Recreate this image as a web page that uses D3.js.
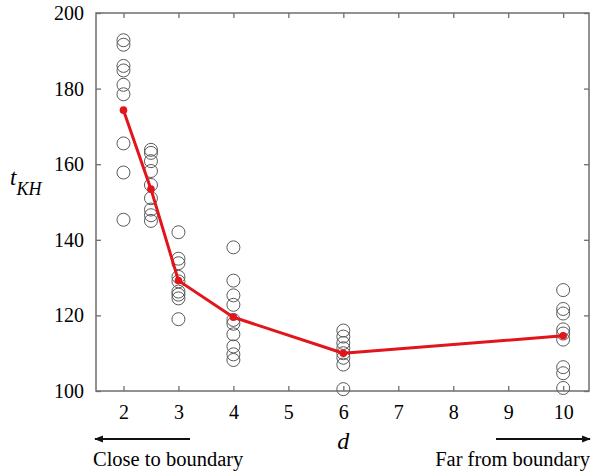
<!DOCTYPE html>
<html><head><meta charset="utf-8">
<script src="https://cdn.jsdelivr.net/npm/d3@7"></script>
<style>body{margin:0;background:#fff}svg{display:block}svg text{font-family:"Liberation Serif","Times New Roman",Tinos,"DejaVu Serif",serif !important}</style>
</head><body>
<script>
const dValues = [2, 2.5, 3, 4, 6, 10];
const runs_d2   = [192.8, 191.6, 186, 184.8, 181, 178.5, 165.5, 157.8, 145.3];
const runs_d2_5 = [163.8, 163, 160.8, 158.2, 154.5, 151, 148, 146.5, 145];
const runs_d3   = [142, 135, 133.8, 130.2, 129, 126.3, 125.5, 124.5, 119];
const runs_d4   = [138, 129.2, 125.3, 122.8, 118.8, 117.8, 115, 111.8, 109.7, 108.2];
const runs_d6   = [116, 114.4, 112.7, 111.3, 110, 108.8, 107, 100.5];
const runs_d10  = [126.7, 121.7, 120.5, 116.3, 115.2, 113.6, 106.3, 104.7, 100.8];
const meanValues = [174.3, 153.4, 129.2, 119.5, 110, 114.6];
const xTicks = [2, 3, 4, 5, 6, 7, 8, 9, 10];
const yTicks = [100, 120, 140, 160, 180, 200];

const runs = [runs_d2, runs_d2_5, runs_d3, runs_d4, runs_d6, runs_d10];
const W = 591, H = 472;
const FONT = '"Liberation Serif","Times New Roman",Tinos,"DejaVu Serif",serif';
const svg = d3.select("body").append("svg").attr("width", W).attr("height", H)
  .style("font-family", FONT);
const x = d3.scaleLinear().domain([1.5, 10.47]).range([96, 589]);
const y = d3.scaleLinear().domain([100, 200]).range([391, 13]);

const axisColor = "#6e6e6e";
const fs = 20;
svg.append("rect").attr("x", x.range()[0]).attr("y", y.range()[1])
  .attr("width", x.range()[1] - x.range()[0]).attr("height", y.range()[0] - y.range()[1])
  .attr("fill", "none").attr("stroke", axisColor).attr("stroke-width", 1.5);

function styleAxis(g){
  g.attr("font-family", null).style("font-family", FONT);
  g.select(".domain").remove();
  g.selectAll(".tick line").attr("stroke", axisColor).attr("stroke-width", 1.3);
  g.selectAll(".tick text").attr("font-size", fs).attr("fill", "#000").style("font-family", FONT);
}
const tl = 5;
svg.append("g").attr("transform", `translate(0,${y(100)})`)
  .call(d3.axisBottom(x).tickValues(xTicks).tickSize(-tl).tickPadding(14).tickFormat(d3.format("d")))
  .call(styleAxis);
svg.append("g").attr("transform", `translate(0,${y(200)})`)
  .call(d3.axisTop(x).tickValues(xTicks).tickSize(-tl).tickFormat(""))
  .call(styleAxis);
svg.append("g").attr("transform", `translate(${x.range()[0]},0)`)
  .call(d3.axisLeft(y).tickValues(yTicks).tickSize(-tl).tickPadding(12).tickFormat(d3.format("d")))
  .call(styleAxis);
svg.append("g").attr("transform", `translate(${x.range()[1]},0)`)
  .call(d3.axisRight(y).tickValues(yTicks).tickSize(-tl).tickFormat(""))
  .call(styleAxis);

const pts = [];
runs.forEach((arr, i) => arr.forEach(v => pts.push({d: dValues[i], v})));
svg.append("g").selectAll("circle").data(pts).join("circle")
  .attr("cx", p => x(p.d)).attr("cy", p => y(p.v)).attr("r", 6.5)
  .attr("fill", "none").attr("stroke", "#5a5a5a").attr("stroke-width", 1);

const means = dValues.map((d, i) => ({d, v: meanValues[i]}));
svg.append("path").datum(means)
  .attr("d", d3.line().x(p => x(p.d)).y(p => y(p.v)))
  .attr("fill", "none").attr("stroke", "#e2151b").attr("stroke-width", 3).attr("stroke-linejoin", "round");
svg.append("g").selectAll("circle").data(means).join("circle")
  .attr("cx", p => x(p.d)).attr("cy", p => y(p.v)).attr("r", 3.8).attr("fill", "#e2151b");

const yl = svg.append("text").attr("x", 10).attr("y", 185).attr("font-style", "italic").attr("font-size", 23);
yl.append("tspan").text("t");
yl.append("tspan").attr("dy", 10).attr("font-size", 18).text("KH");
svg.append("text").attr("x", x(6)).attr("y", 449).attr("text-anchor", "middle")
  .attr("font-style", "italic").attr("font-size", 24).text("d");

const defs = svg.append("defs");
defs.append("marker").attr("id", "ah").attr("viewBox", "0 0 10 10").attr("refX", 9).attr("refY", 5)
  .attr("markerWidth", 4).attr("markerHeight", 4).attr("markerUnits", "strokeWidth").attr("orient", "auto")
  .append("path").attr("d", "M0,1 L10,5 L0,9 Z").attr("fill", "#111");
svg.append("line").attr("x1", 190).attr("y1", 439).attr("x2", 95).attr("y2", 439)
  .attr("stroke", "#111").attr("stroke-width", 2.2).attr("marker-end", "url(#ah)");
svg.append("line").attr("x1", 496).attr("y1", 439).attr("x2", 590).attr("y2", 439)
  .attr("stroke", "#111").attr("stroke-width", 2.2).attr("marker-end", "url(#ah)");
svg.append("text").attr("x", 93).attr("y", 466).attr("font-size", 20.5).text("Close to boundary");
svg.append("text").attr("x", 590).attr("y", 466).attr("text-anchor", "end").attr("font-size", 20.5).text("Far from boundary");
</script>
</body></html>
